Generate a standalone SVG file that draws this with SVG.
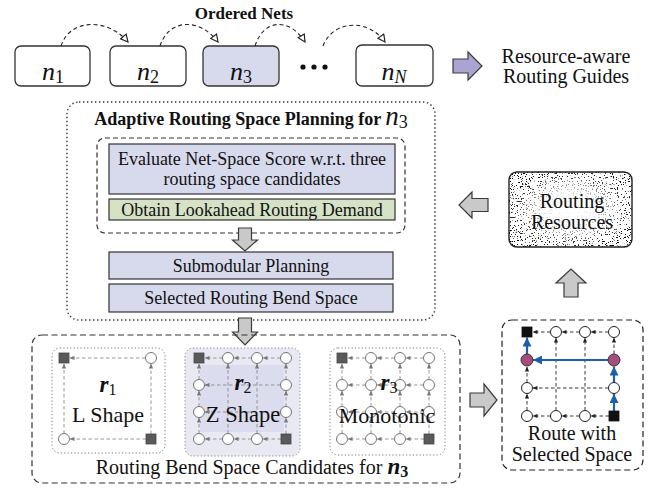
<svg xmlns="http://www.w3.org/2000/svg" width="654" height="489" viewBox="0 0 654 489">
<style>
.t{font-family:"Liberation Serif","Times New Roman",serif;fill:#111}
.b{font-weight:bold}
.i{font-style:italic}
.nb{fill:#fff;stroke:#333;stroke-width:1.3}
.pb{fill:#d7d9ec;stroke:#333;stroke-width:1.2}
.gb{fill:#d5e2c6;stroke:#333;stroke-width:1.2}
.ga{fill:#c9c9c9;stroke:#3a3a3a;stroke-width:1.2}
.arc{fill:none;stroke:#222;stroke-width:1.1;stroke-dasharray:4 3}
.gl{fill:none;stroke:#8a8a8a;stroke-width:0.9;stroke-dasharray:3.5 2.5}
.kl{fill:none;stroke:#222;stroke-width:0.9;stroke-dasharray:3.5 2.5}
.bl{fill:none;stroke:#1f5fa8;stroke-width:2.2}
.gc{fill:#fff;stroke:#666;stroke-width:0.9}
.gs{fill:#5a5a5a;stroke:#444;stroke-width:0.8}
.kc{fill:#fff;stroke:#222;stroke-width:1}
.ks{fill:#111;stroke:#111;stroke-width:0.8}
.mc{fill:#a64d7e;stroke:#333;stroke-width:1}
</style>
<defs>
<marker id="tri" viewBox="0 0 10 10" refX="9" refY="5" markerWidth="9" markerHeight="9" markerUnits="userSpaceOnUse" orient="auto">
<path d="M1,1 L9,5 L1,9 Z" fill="#fff" stroke="#222" stroke-width="1.3"/>
</marker>
<marker id="ag" viewBox="0 0 6 6" refX="6" refY="3" markerWidth="5" markerHeight="5" markerUnits="userSpaceOnUse" orient="auto">
<path d="M0,0.5 L6,3 L0,5.5 Z" fill="#777"/>
</marker>
<marker id="ak" viewBox="0 0 6 6" refX="6" refY="3" markerWidth="5" markerHeight="5" markerUnits="userSpaceOnUse" orient="auto">
<path d="M0,0.5 L6,3 L0,5.5 Z" fill="#222"/>
</marker>
<marker id="ab" viewBox="0 0 8 8" refX="8" refY="4" markerWidth="9" markerHeight="9" markerUnits="userSpaceOnUse" orient="auto">
<path d="M0,0 L8,4 L0,8 Z" fill="#1f5fa8"/>
</marker>
<filter id="spk" x="0" y="0" width="100%" height="100%">
<feTurbulence type="fractalNoise" baseFrequency="0.75" numOctaves="2" seed="11" result="t"/>
<feColorMatrix in="t" type="matrix" values="0 0 0 0 0  0 0 0 0 0  0 0 0 0 0  -20 0 0 0 7.6"/>
<feComposite in2="SourceAlpha" operator="in"/>
</filter>
<radialGradient id="fade" cx="0.5" cy="0.5" r="0.62">
<stop offset="0" stop-color="#000"/>
<stop offset="0.35" stop-color="#222"/>
<stop offset="0.7" stop-color="#ccc"/>
<stop offset="1" stop-color="#fff"/>
</radialGradient>
<mask id="spm" maskUnits="userSpaceOnUse" x="505" y="168" width="131" height="84">
<rect x="509" y="172" width="123" height="75" fill="url(#fade)"/>
</mask>
</defs>

<text class="t b" x="244" y="19" font-size="17" text-anchor="middle">Ordered Nets</text>

<g id="net-n1">
<rect class="nb" x="15" y="46" width="75" height="40" rx="6"/>
<text class="t" x="53" y="80" text-anchor="middle"><tspan class="i" font-size="26">n</tspan><tspan font-size="18" dy="3">1</tspan></text>
</g>
<g id="net-n2">
<rect class="nb" x="110" y="46" width="76" height="40" rx="6"/>
<text class="t" x="148" y="80" text-anchor="middle"><tspan class="i" font-size="26">n</tspan><tspan font-size="18" dy="3">2</tspan></text>
</g>
<g id="net-n3">
<rect class="nb" x="203" y="46" width="76" height="40" rx="6" style="fill:#d7d9ec"/>
<text class="t" x="241" y="80" text-anchor="middle"><tspan class="i" font-size="26">n</tspan><tspan font-size="18" dy="3">3</tspan></text>
</g>
<g id="dots">
<circle cx="303" cy="67" r="2.6" fill="#111"/>
<circle cx="314" cy="67" r="2.6" fill="#111"/>
<circle cx="325" cy="67" r="2.6" fill="#111"/>
</g>
<g id="net-nN">
<rect class="nb" x="356" y="45" width="77" height="41" rx="6"/>
<text class="t" x="394" y="80" text-anchor="middle"><tspan class="i" font-size="26">n</tspan><tspan class="i" font-size="18" dy="3">N</tspan></text>
</g>
<g id="guides">
<path class="ga" style="fill:#aaa4d2" d="M453,59 H468 V52 L482,66 L468,80 V73 H453 Z"/>
<text class="t" x="566" y="63" font-size="20" text-anchor="middle">Resource-aware</text>
<text class="t" x="566" y="83" font-size="20" text-anchor="middle">Routing Guides</text>
</g>

<g id="connectors">
<path class="arc" d="M61,46 C70,18 108,18 128,42" marker-end="url(#tri)"/>
<path class="arc" d="M160,46 C169,18 200,18 218,42" marker-end="url(#tri)"/>
<path class="arc" d="M255,46 C264,18 290,18 305,42" marker-end="url(#tri)"/>
<path class="arc" d="M323,46 C333,20 368,18 385,42" marker-end="url(#tri)"/>
</g>

<g id="planning">
<rect x="67" y="102" width="368" height="218" rx="12" fill="none" stroke="#333" stroke-width="1.4" stroke-dasharray="1.4 2.6"/>
<text class="t b" x="251" y="125" font-size="18" text-anchor="middle">Adaptive Routing Space Planning for <tspan class="i" font-weight="normal" font-size="27">n</tspan><tspan font-weight="normal" font-size="18" dy="3">3</tspan></text>
<rect x="97" y="138" width="308" height="95" rx="8" fill="none" stroke="#333" stroke-width="1.2" stroke-dasharray="5 3"/>
</g>
<g id="evaluate">
<rect class="pb" x="109" y="144" width="286" height="50"/>
<text class="t" x="252" y="165" font-size="18" text-anchor="middle">Evaluate Net-Space Score w.r.t. three</text>
<text class="t" x="252" y="185" font-size="18" text-anchor="middle">routing space candidates</text>
</g>
<g id="lookahead">
<rect class="gb" x="109" y="199" width="286" height="21"/>
<text class="t" x="252" y="215.5" font-size="18" text-anchor="middle">Obtain Lookahead Routing Demand</text>
</g>
<path class="ga" d="M238.5,228 H251.5 V240 H257.5 L245,251 L232.5,240 H238.5 Z"/>
<g id="submodular">
<rect class="pb" x="109" y="252" width="284" height="27"/>
<text class="t" x="251" y="272" font-size="18" text-anchor="middle">Submodular Planning</text>
</g>
<g id="selected">
<rect class="pb" x="109" y="284" width="284" height="28"/>
<text class="t" x="251" y="304" font-size="18" text-anchor="middle">Selected Routing Bend Space</text>
</g>
<path class="ga" d="M238.5,318 H251.5 V332 H257.5 L245,345 L232.5,332 H238.5 Z"/>

<g id="resources">
<rect x="509" y="172" width="123" height="75" rx="8" fill="#fff"/>
<rect x="509" y="172" width="123" height="75" rx="8" fill="#000" filter="url(#spk)" mask="url(#spm)"/>
<rect x="509" y="172" width="123" height="75" rx="8" fill="none" stroke="#222" stroke-width="1.4"/>
<text class="t" x="572" y="208" font-size="20" text-anchor="middle">Routing</text>
<text class="t" x="572" y="229" font-size="20" text-anchor="middle">Resources</text>
</g>
<path class="ga" d="M488,198.5 V211.5 H472 V218 L459,205 L472,192 V198.5 Z"/>
<path class="ga" d="M564,297 H578 V283 H586 L571,269 L556,283 H564 Z"/>

<g id="candidates">
<rect x="32" y="335" width="428" height="148" rx="10" fill="none" stroke="#333" stroke-width="1.2" stroke-dasharray="6 3.5"/>
<text class="t" x="252" y="474" font-size="20" text-anchor="middle">Routing Bend Space Candidates for <tspan class="b i" font-size="23">n</tspan><tspan class="b" font-size="16" dy="3">3</tspan></text>
</g>

<g id="r1">
<rect x="52" y="348" width="113" height="105" rx="8" fill="none" stroke="#777" stroke-width="1" stroke-dasharray="1.2 2.2"/>
<path class="gl" d="M145.5,358 H69.5" marker-end="url(#ag)"/>
<path class="gl" d="M64,433.5 V363.5" marker-end="url(#ag)"/>
<path class="gl" d="M146,439 H69.5" marker-end="url(#ag)"/>
<path class="gl" d="M151,434 V363.5" marker-end="url(#ag)"/>
<rect class="gs" x="59" y="353" width="10" height="10"/>
<circle class="gc" cx="151" cy="358" r="5.5"/>
<circle class="gc" cx="64" cy="439" r="5.5"/>
<rect class="gs" x="146" y="434" width="10" height="10"/>
<text class="t b i" x="108" y="392" font-size="23" text-anchor="middle">r<tspan font-style="normal" font-weight="normal" font-size="16" dy="3">1</tspan></text>
<text class="t" x="108" y="422" font-size="22" text-anchor="middle">L Shape</text>
</g>

<g id="r2">
<rect x="185" y="348" width="115" height="108" rx="8" fill="#e9e9f4" stroke="#888" stroke-width="1" stroke-dasharray="1.2 2.2"/>
<rect x="200" y="365" width="84" height="67" fill="#dcdcef"/>
<path class="gl" d="M222.5,358 H204.5" marker-end="url(#ag)"/>
<path class="gl" d="M251.5,358 H233.5" marker-end="url(#ag)"/>
<path class="gl" d="M280.5,358 H262.5" marker-end="url(#ag)"/>
<path class="gl" d="M222.5,439 H204.5" marker-end="url(#ag)"/>
<path class="gl" d="M251.5,439 H233.5" marker-end="url(#ag)"/>
<path class="gl" d="M281,439 H262.5" marker-end="url(#ag)"/>
<path class="gl" d="M199,379.5 V363.5" marker-end="url(#ag)"/>
<path class="gl" d="M199,406.5 V390.5" marker-end="url(#ag)"/>
<path class="gl" d="M199,433.5 V417.5" marker-end="url(#ag)"/>
<path class="gl" d="M286,379.5 V363.5" marker-end="url(#ag)"/>
<path class="gl" d="M286,406.5 V390.5" marker-end="url(#ag)"/>
<path class="gl" d="M286,434 V417.5" marker-end="url(#ag)"/>
<path class="gl" d="M280.5,385 H204.5" marker-end="url(#ag)"/>
<path class="gl" d="M280.5,412 H204.5" marker-end="url(#ag)"/>
<path class="gl" d="M228,433.5 V363.5" marker-end="url(#ag)"/>
<path class="gl" d="M257,433.5 V363.5" marker-end="url(#ag)"/>
<rect class="gs" x="194" y="353" width="10" height="10"/>
<circle class="gc" cx="228" cy="358" r="5.5"/>
<circle class="gc" cx="257" cy="358" r="5.5"/>
<circle class="gc" cx="286" cy="358" r="5.5"/>
<circle class="gc" cx="199" cy="385" r="5.5"/>
<circle class="gc" cx="286" cy="385" r="5.5"/>
<circle class="gc" cx="199" cy="412" r="5.5"/>
<circle class="gc" cx="286" cy="412" r="5.5"/>
<circle class="gc" cx="199" cy="439" r="5.5"/>
<circle class="gc" cx="228" cy="439" r="5.5"/>
<circle class="gc" cx="257" cy="439" r="5.5"/>
<rect class="gs" x="281" y="434" width="10" height="10"/>
<text class="t b i" x="243" y="390" font-size="23" text-anchor="middle">r<tspan font-style="normal" font-weight="normal" font-size="16" dy="3">2</tspan></text>
<text class="t" x="243" y="422" font-size="22.5" text-anchor="middle">Z Shape</text>
</g>

<g id="r3">
<rect x="330" y="348" width="115" height="107" rx="8" fill="none" stroke="#777" stroke-width="1" stroke-dasharray="1.2 2.2"/>
<path class="gl" d="M365.5,358 H347.5" marker-end="url(#ag)"/>
<path class="gl" d="M394.5,358 H376.5" marker-end="url(#ag)"/>
<path class="gl" d="M423.5,358 H405.5" marker-end="url(#ag)"/>
<path class="gl" d="M365.5,385 H347.5" marker-end="url(#ag)"/>
<path class="gl" d="M394.5,385 H376.5" marker-end="url(#ag)"/>
<path class="gl" d="M423.5,385 H405.5" marker-end="url(#ag)"/>
<path class="gl" d="M365.5,412 H347.5" marker-end="url(#ag)"/>
<path class="gl" d="M394.5,412 H376.5" marker-end="url(#ag)"/>
<path class="gl" d="M423.5,412 H405.5" marker-end="url(#ag)"/>
<path class="gl" d="M365.5,439 H347.5" marker-end="url(#ag)"/>
<path class="gl" d="M394.5,439 H376.5" marker-end="url(#ag)"/>
<path class="gl" d="M424,439 H405.5" marker-end="url(#ag)"/>
<path class="gl" d="M342,379.5 V363.5" marker-end="url(#ag)"/>
<path class="gl" d="M342,406.5 V390.5" marker-end="url(#ag)"/>
<path class="gl" d="M342,433.5 V417.5" marker-end="url(#ag)"/>
<path class="gl" d="M371,379.5 V363.5" marker-end="url(#ag)"/>
<path class="gl" d="M371,406.5 V390.5" marker-end="url(#ag)"/>
<path class="gl" d="M371,433.5 V417.5" marker-end="url(#ag)"/>
<path class="gl" d="M400,379.5 V363.5" marker-end="url(#ag)"/>
<path class="gl" d="M400,406.5 V390.5" marker-end="url(#ag)"/>
<path class="gl" d="M400,433.5 V417.5" marker-end="url(#ag)"/>
<path class="gl" d="M429,379.5 V363.5" marker-end="url(#ag)"/>
<path class="gl" d="M429,406.5 V390.5" marker-end="url(#ag)"/>
<path class="gl" d="M429,434 V417.5" marker-end="url(#ag)"/>
<rect class="gs" x="337" y="353" width="10" height="10"/>
<circle class="gc" cx="371" cy="358" r="5.5"/>
<circle class="gc" cx="400" cy="358" r="5.5"/>
<circle class="gc" cx="429" cy="358" r="5.5"/>
<circle class="gc" cx="342" cy="385" r="5.5"/>
<circle class="gc" cx="371" cy="385" r="5.5"/>
<circle class="gc" cx="400" cy="385" r="5.5"/>
<circle class="gc" cx="429" cy="385" r="5.5"/>
<circle class="gc" cx="342" cy="412" r="5.5"/>
<circle class="gc" cx="371" cy="412" r="5.5"/>
<circle class="gc" cx="400" cy="412" r="5.5"/>
<circle class="gc" cx="429" cy="412" r="5.5"/>
<circle class="gc" cx="342" cy="439" r="5.5"/>
<circle class="gc" cx="371" cy="439" r="5.5"/>
<circle class="gc" cx="400" cy="439" r="5.5"/>
<rect class="gs" x="424" y="434" width="10" height="10"/>
<text class="t b i" x="389" y="390" font-size="23" text-anchor="middle">r<tspan font-style="normal" font-weight="normal" font-size="16" dy="3">3</tspan></text>
<text class="t" x="387" y="423" font-size="22" text-anchor="middle">Monotonic</text>
</g>

<path class="ga" d="M470,393 H484 V384 L497,400 L484,416 V407 H470 Z"/>

<g id="route">
<rect x="502" y="320" width="141" height="150" rx="10" fill="none" stroke="#222" stroke-width="1.2" stroke-dasharray="6 3.5"/>
<path class="kl" d="M550.5,332 H532.5" marker-end="url(#ak)"/>
<path class="kl" d="M579.5,332 H561.5" marker-end="url(#ak)"/>
<path class="kl" d="M608.5,332 H590.5" marker-end="url(#ak)"/>
<path class="kl" d="M550.5,416 H532.5" marker-end="url(#ak)"/>
<path class="kl" d="M579.5,416 H561.5" marker-end="url(#ak)"/>
<path class="kl" d="M609,416 H590.5" marker-end="url(#ak)"/>
<path class="kl" d="M527,382.5 V366.5" marker-end="url(#ak)"/>
<path class="kl" d="M527,410.5 V393.5" marker-end="url(#ak)"/>
<path class="kl" d="M614,354 V337.5" marker-end="url(#ak)"/>
<path class="kl" d="M608.5,388 H532.5" marker-end="url(#ak)"/>
<path class="kl" d="M556,410.5 V337.5" marker-end="url(#ak)"/>
<path class="kl" d="M585,410.5 V337.5" marker-end="url(#ak)"/>
<path class="bl" d="M614,411 V394" marker-end="url(#ab)"/>
<path class="bl" d="M614,382.5 V366.5" marker-end="url(#ab)"/>
<path class="bl" d="M608,360 H533" marker-end="url(#ab)"/>
<path class="bl" d="M527,354 V337.5" marker-end="url(#ab)"/>
<rect class="ks" x="522" y="327" width="10" height="10"/>
<circle class="kc" cx="556" cy="332" r="5.5"/>
<circle class="kc" cx="585" cy="332" r="5.5"/>
<circle class="kc" cx="614" cy="332" r="5.5"/>
<circle class="mc" cx="527" cy="360" r="6"/>
<circle class="mc" cx="614" cy="360" r="6"/>
<circle class="kc" cx="527" cy="388" r="5.5"/>
<circle class="kc" cx="614" cy="388" r="5.5"/>
<circle class="kc" cx="527" cy="416" r="5.5"/>
<circle class="kc" cx="556" cy="416" r="5.5"/>
<circle class="kc" cx="585" cy="416" r="5.5"/>
<rect class="ks" x="609" y="411" width="10" height="10"/>
<text class="t" x="572" y="440" font-size="20" text-anchor="middle">Route with</text>
<text class="t" x="572" y="461" font-size="20" text-anchor="middle">Selected Space</text>
</g>
</svg>
